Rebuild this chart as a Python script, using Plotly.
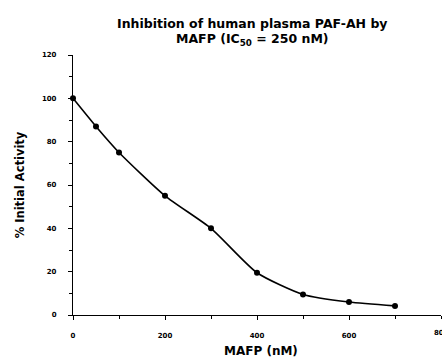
import plotly.graph_objects as go

# MAFP concentration (nM) and remaining PAF-AH activity (% of initial)
mafp_nm = [0, 50, 100, 200, 300, 400, 500, 600, 700]
activity_pct = [100, 87, 75, 55, 40, 19.5, 9.5, 6, 4.2]

x_ticks = [0, 200, 400, 600, 800]
y_ticks = [0, 20, 40, 60, 80, 100, 120]

title_lines = [
    "Inhibition of human plasma PAF-AH by",
    "MAFP (IC<sub>50</sub> = 250 nM)",
]

font_family = "DejaVu Sans, Verdana, sans-serif"

fig = go.Figure()
fig.add_trace(go.Scatter(
    x=mafp_nm, y=activity_pct,
    mode="lines+markers",
    line=dict(color="black", width=1.6, shape="spline", smoothing=0.6),
    marker=dict(color="black", size=6, symbol="circle"),
    showlegend=False,
    cliponaxis=False,
))

# two-line title, placed in pixels above the plot area
for i, line in enumerate(title_lines):
    fig.add_annotation(
        x=0.487, y=1, xref="paper", yref="paper",
        xanchor="center", yanchor="middle",
        yshift=32 - 16 * i,
        text=f"<b>{line}</b>", showarrow=False,
        font=dict(size=12.5, family=font_family),
    )

# x-axis title
fig.add_annotation(
    x=0.512, y=0, xref="paper", yref="paper",
    xanchor="center", yanchor="middle", yshift=-36,
    text="<b>MAFP (nM)</b>", showarrow=False,
    font=dict(size=12, family=font_family),
)

# the last x tick label sits on the right edge of the page
fig.add_annotation(
    x=x_ticks[-1], y=0, xref="x", yref="paper",
    text=f"<b>{x_ticks[-1]}</b>", showarrow=False,
    yanchor="middle", yshift=-18, font=dict(size=7, family=font_family),
)

fig.update_layout(
    width=442, height=360,
    margin=dict(l=73, r=1, t=55, b=45),
    paper_bgcolor="white", plot_bgcolor="white",
    font=dict(family=font_family, color="black"),
    xaxis=dict(
        range=[0, 800], tickvals=x_ticks[:-1],
        ticktext=[f"<b>{v}</b>" for v in x_ticks[:-1]],
        showgrid=False, zeroline=False,
        showline=True, linecolor="black", linewidth=1.2,
        ticks="outside", ticklen=4, tickwidth=1, tickcolor="black",
        minor=dict(dtick=100, ticks="outside", ticklen=3, tickcolor="black"),
        tickfont=dict(size=7),
        ticklabelstandoff=9,
    ),
    yaxis=dict(
        range=[0, 120], tickvals=y_ticks,
        ticktext=[f"<b>{v}</b>" for v in y_ticks],
        showgrid=False, zeroline=False,
        showline=True, linecolor="black", linewidth=1.2,
        ticks="outside", ticklen=4, tickwidth=1, tickcolor="black",
        minor=dict(dtick=10, ticks="outside", ticklen=3, tickcolor="black"),
        tickfont=dict(size=7),
        ticklabelstandoff=10,
        title=dict(text="<b>% Initial Activity</b>", font=dict(size=11.5), standoff=14),
    ),
)

fig.write_html("out.html")
